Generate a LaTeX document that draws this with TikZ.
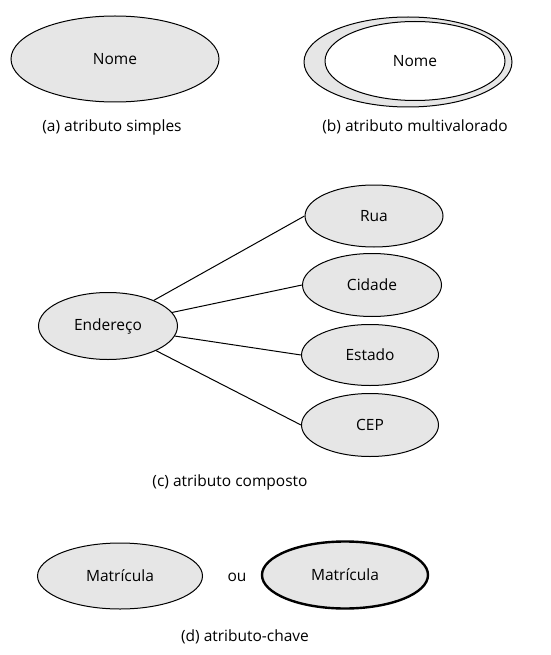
\documentclass[tikz,border=0pt]{standalone}
\usepackage{fontspec}
\setmainfont{Open Sans}
\usetikzlibrary{shapes.geometric}
\definecolor{attrfill}{HTML}{E6E6E6}
\begin{document}
\begin{tikzpicture}[x=1pt,y=-1pt,
  attr/.style={ellipse, draw=black, fill=attrfill, line width=1pt, inner sep=0pt, font=\fontsize{15.5}{18}\selectfont},
  caption/.style={font=\fontsize{15.5}{18}\selectfont},
  conn/.style={line width=1pt}]
\useasboundingbox (0,0) rectangle (550,655);
% (a)
\node[attr, minimum width=208pt, minimum height=86pt] (nomeA) at (115,59) {Nome};
\node[caption] (capA) at (112,127) {(a) atributo simples};
% (b)
\node[attr, minimum width=208pt, minimum height=90pt] (nomeBout) at (408,62) {};
\node[attr, fill=white, minimum width=180pt, minimum height=79pt] (nomeB) at (415,61) {Nome};
\node[caption] (capB) at (415,127) {(b) atributo multivalorado};
% (c)
\node[attr, minimum width=139pt, minimum height=67pt] (end) at (108,326) {Endereço};
\node[attr, minimum width=138pt, minimum height=62pt] (rua) at (374,216) {Rua};
\node[attr, minimum width=139pt, minimum height=63pt] (cid) at (372,285) {Cidade};
\node[attr, minimum width=137pt, minimum height=61pt] (est) at (370,355) {Estado};
\node[attr, minimum width=137pt, minimum height=63pt] (cep) at (370,425) {CEP};
\draw[conn] (end) -- (rua.west);
\draw[conn] (end) -- (cid.west);
\draw[conn] (end) -- (est.west);
\draw[conn] (end) -- (cep.west);
\node[caption] (capC) at (230,482) {(c) atributo composto};
% (d)
\node[attr, minimum width=165pt, minimum height=66pt] (mat1) at (120,576) {Matrícula};
\node[caption] (ou) at (237,577) {ou};
\node[attr, line width=2.4pt, minimum width=166pt, minimum height=67pt] (mat2) at (345,575) {Matrícula};
\node[caption] (capD) at (245,637) {(d) atributo-chave};
\end{tikzpicture}
\end{document}
